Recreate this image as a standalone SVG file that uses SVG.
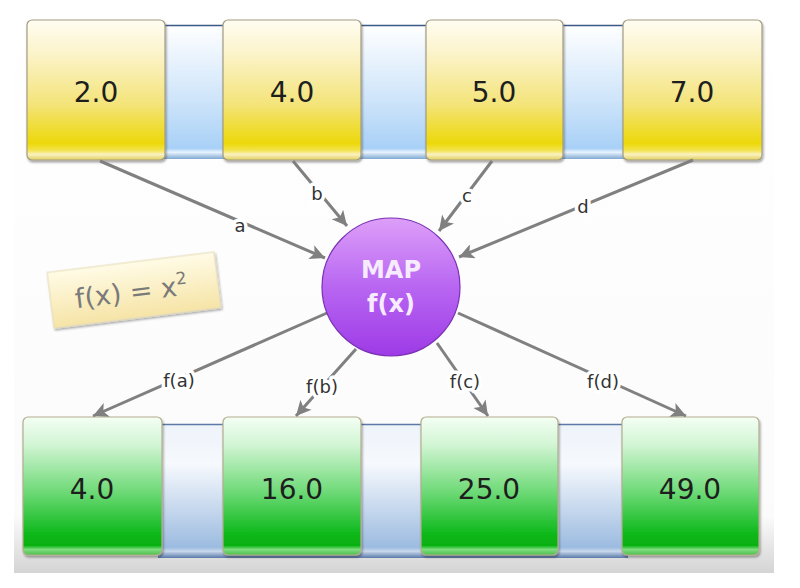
<svg xmlns="http://www.w3.org/2000/svg" width="800" height="588" viewBox="0 0 800 588">
<defs>
<linearGradient id="bg" x1="0" y1="0" x2="0" y2="1">
<stop offset="0" stop-color="#ffffff"/><stop offset="0.9" stop-color="#fbfbfb"/><stop offset="0.96" stop-color="#e4e4e4"/><stop offset="1" stop-color="#d4d4d4"/>
</linearGradient>
<linearGradient id="stripTop" x1="0" y1="0" x2="0" y2="1">
<stop offset="0" stop-color="#ffffff"/><stop offset="0.55" stop-color="#cfe5fa"/><stop offset="0.92" stop-color="#a8d0f6"/><stop offset="0.95" stop-color="#e8f3ff"/><stop offset="1" stop-color="#7fa8d0"/>
</linearGradient>
<linearGradient id="stripBot" x1="0" y1="0" x2="0" y2="1">
<stop offset="0" stop-color="#eef3fa"/><stop offset="0.3" stop-color="#f6f9fd"/><stop offset="0.92" stop-color="#9cbbe0"/><stop offset="0.95" stop-color="#c8d8ec"/><stop offset="1" stop-color="#5a78a8"/>
</linearGradient>
<linearGradient id="yel" x1="0" y1="0" x2="0" y2="1">
<stop offset="0" stop-color="#fffdf2"/><stop offset="0.25" stop-color="#fbf3c8"/><stop offset="0.6" stop-color="#f4e47a"/><stop offset="0.88" stop-color="#ecd80a"/><stop offset="0.93" stop-color="#f3e34a"/><stop offset="0.96" stop-color="#fbf1c0"/><stop offset="1" stop-color="#e0cf60"/>
</linearGradient>
<linearGradient id="grn" x1="0" y1="0" x2="0" y2="1">
<stop offset="0" stop-color="#f4fff4"/><stop offset="0.2" stop-color="#d2f5d4"/><stop offset="0.55" stop-color="#6cd975"/><stop offset="0.85" stop-color="#0cb81a"/><stop offset="0.93" stop-color="#06b010"/><stop offset="0.96" stop-color="#7fdc7f"/><stop offset="1" stop-color="#4cbf4c"/>
</linearGradient>
<linearGradient id="pur" x1="0" y1="0" x2="0" y2="1">
<stop offset="0" stop-color="#dd9ff8"/><stop offset="0.5" stop-color="#b866f2"/><stop offset="1" stop-color="#9d3ae6"/>
</linearGradient>
<linearGradient id="note" x1="0" y1="0" x2="0" y2="1">
<stop offset="0" stop-color="#fffbe6"/><stop offset="1" stop-color="#f6e4a6"/>
</linearGradient>
<marker id="ah" viewBox="0 0 10 10" refX="10" refY="5" markerWidth="5.5" markerHeight="5" orient="auto" markerUnits="strokeWidth">
<path d="M0,0 L10,5 L0,10 L2.5,5 Z" fill="#808080"/>
</marker>
<filter id="sh" x="-10%" y="-10%" width="120%" height="120%">
<feDropShadow dx="1" dy="2" stdDeviation="1.2" flood-color="#000" flood-opacity="0.35"/>
</filter>
</defs>
<style>
.box{stroke:#a39c82;stroke-width:1.2}
.gbox{stroke:#b3ad8f;stroke-width:1.2}
.val{font-family:"DejaVu Sans",Verdana,sans-serif;font-size:28px;fill:#1e1e1e;text-anchor:middle}
.lbl{font-family:"DejaVu Sans",Verdana,sans-serif;font-size:18px;fill:#333;text-anchor:middle;stroke:#fff;stroke-width:7px;paint-order:stroke;stroke-linejoin:round}
.con{stroke:#808080;stroke-width:3;fill:none;marker-end:url(#ah)}
</style>
<rect x="0" y="0" width="800" height="588" fill="#fff"/>
<rect x="14" y="0" width="760" height="573" fill="url(#bg)"/>

<g id="top-strip">
<rect x="160" y="25" width="470" height="134" fill="url(#stripTop)"/>
<line x1="160" y1="25.5" x2="630" y2="25.5" stroke="#3c5a86" stroke-width="1.5"/>
</g>
<g id="bottom-strip">
<rect x="158" y="424" width="470" height="134" fill="url(#stripBot)"/>
<line x1="158" y1="424.5" x2="628" y2="424.5" stroke="#5d7aa6" stroke-width="1.5"/>
</g>

<g id="in1"><rect class="box" x="27" y="20" width="138" height="140" rx="5" fill="url(#yel)" filter="url(#sh)"/><text class="val" x="96" y="102">2.0</text></g>
<g id="in2"><rect class="box" x="223" y="20" width="138" height="140" rx="5" fill="url(#yel)" filter="url(#sh)"/><text class="val" x="292" y="102">4.0</text></g>
<g id="in3"><rect class="box" x="426" y="20" width="137" height="140" rx="5" fill="url(#yel)" filter="url(#sh)"/><text class="val" x="494" y="102">5.0</text></g>
<g id="in4"><rect class="box" x="623" y="20" width="139" height="140" rx="5" fill="url(#yel)" filter="url(#sh)"/><text class="val" x="692" y="102">7.0</text></g>

<g id="out1"><rect class="gbox" x="23" y="417" width="139" height="138" rx="5" fill="url(#grn)" filter="url(#sh)"/><text class="val" x="92" y="499">4.0</text></g>
<g id="out2"><rect class="gbox" x="223" y="417" width="138" height="138" rx="5" fill="url(#grn)" filter="url(#sh)"/><text class="val" x="292" y="499">16.0</text></g>
<g id="out3"><rect class="gbox" x="421" y="417" width="137" height="138" rx="5" fill="url(#grn)" filter="url(#sh)"/><text class="val" x="489" y="499">25.0</text></g>
<g id="out4"><rect class="gbox" x="622" y="417" width="137" height="138" rx="5" fill="url(#grn)" filter="url(#sh)"/><text class="val" x="690" y="499">49.0</text></g>

<g id="note-fx" transform="rotate(-7 134 290)">
<rect x="50" y="262" width="168" height="56" fill="url(#note)" stroke="#e6dcb8" stroke-width="1" filter="url(#sh)"/>
<text x="131" y="301" font-family="'DejaVu Sans',Verdana,sans-serif" font-size="27" fill="#7a7a7a" text-anchor="middle">f(x) = x<tspan font-size="17" dy="-11">2</tspan></text>
</g>

<g id="connectors">
<line class="con" x1="100" y1="161" x2="325" y2="258"/>
<line class="con" x1="293" y1="161" x2="347" y2="226"/>
<line class="con" x1="492" y1="161" x2="439" y2="231"/>
<line class="con" x1="693" y1="160" x2="459" y2="257"/>
<line class="con" x1="327" y1="313" x2="93" y2="416"/>
<line class="con" x1="356" y1="349" x2="296" y2="416"/>
<line class="con" x1="437" y1="343" x2="488" y2="416"/>
<line class="con" x1="458" y1="313" x2="686" y2="416"/>
<text class="lbl" x="240" y="232">a</text>
<text class="lbl" x="317" y="200">b</text>
<text class="lbl" x="467" y="202">c</text>
<text class="lbl" x="583" y="213">d</text>
<text class="lbl" x="179" y="387">f(a)</text>
<text class="lbl" x="322" y="393">f(b)</text>
<text class="lbl" x="465" y="388">f(c)</text>
<text class="lbl" x="603" y="388">f(d)</text>
</g>

<g id="map">
<circle cx="391" cy="287" r="69" fill="url(#pur)" stroke="#7a2fb4" stroke-width="1.2"/>
<text x="391" y="278" font-family="'DejaVu Sans',Verdana,sans-serif" font-weight="bold" font-size="24" fill="#f7ecff" text-anchor="middle">MAP</text>
<text x="391" y="312" font-family="'DejaVu Sans',Verdana,sans-serif" font-weight="bold" font-size="24" fill="#f7ecff" text-anchor="middle">f(x)</text>
</g>
</svg>
